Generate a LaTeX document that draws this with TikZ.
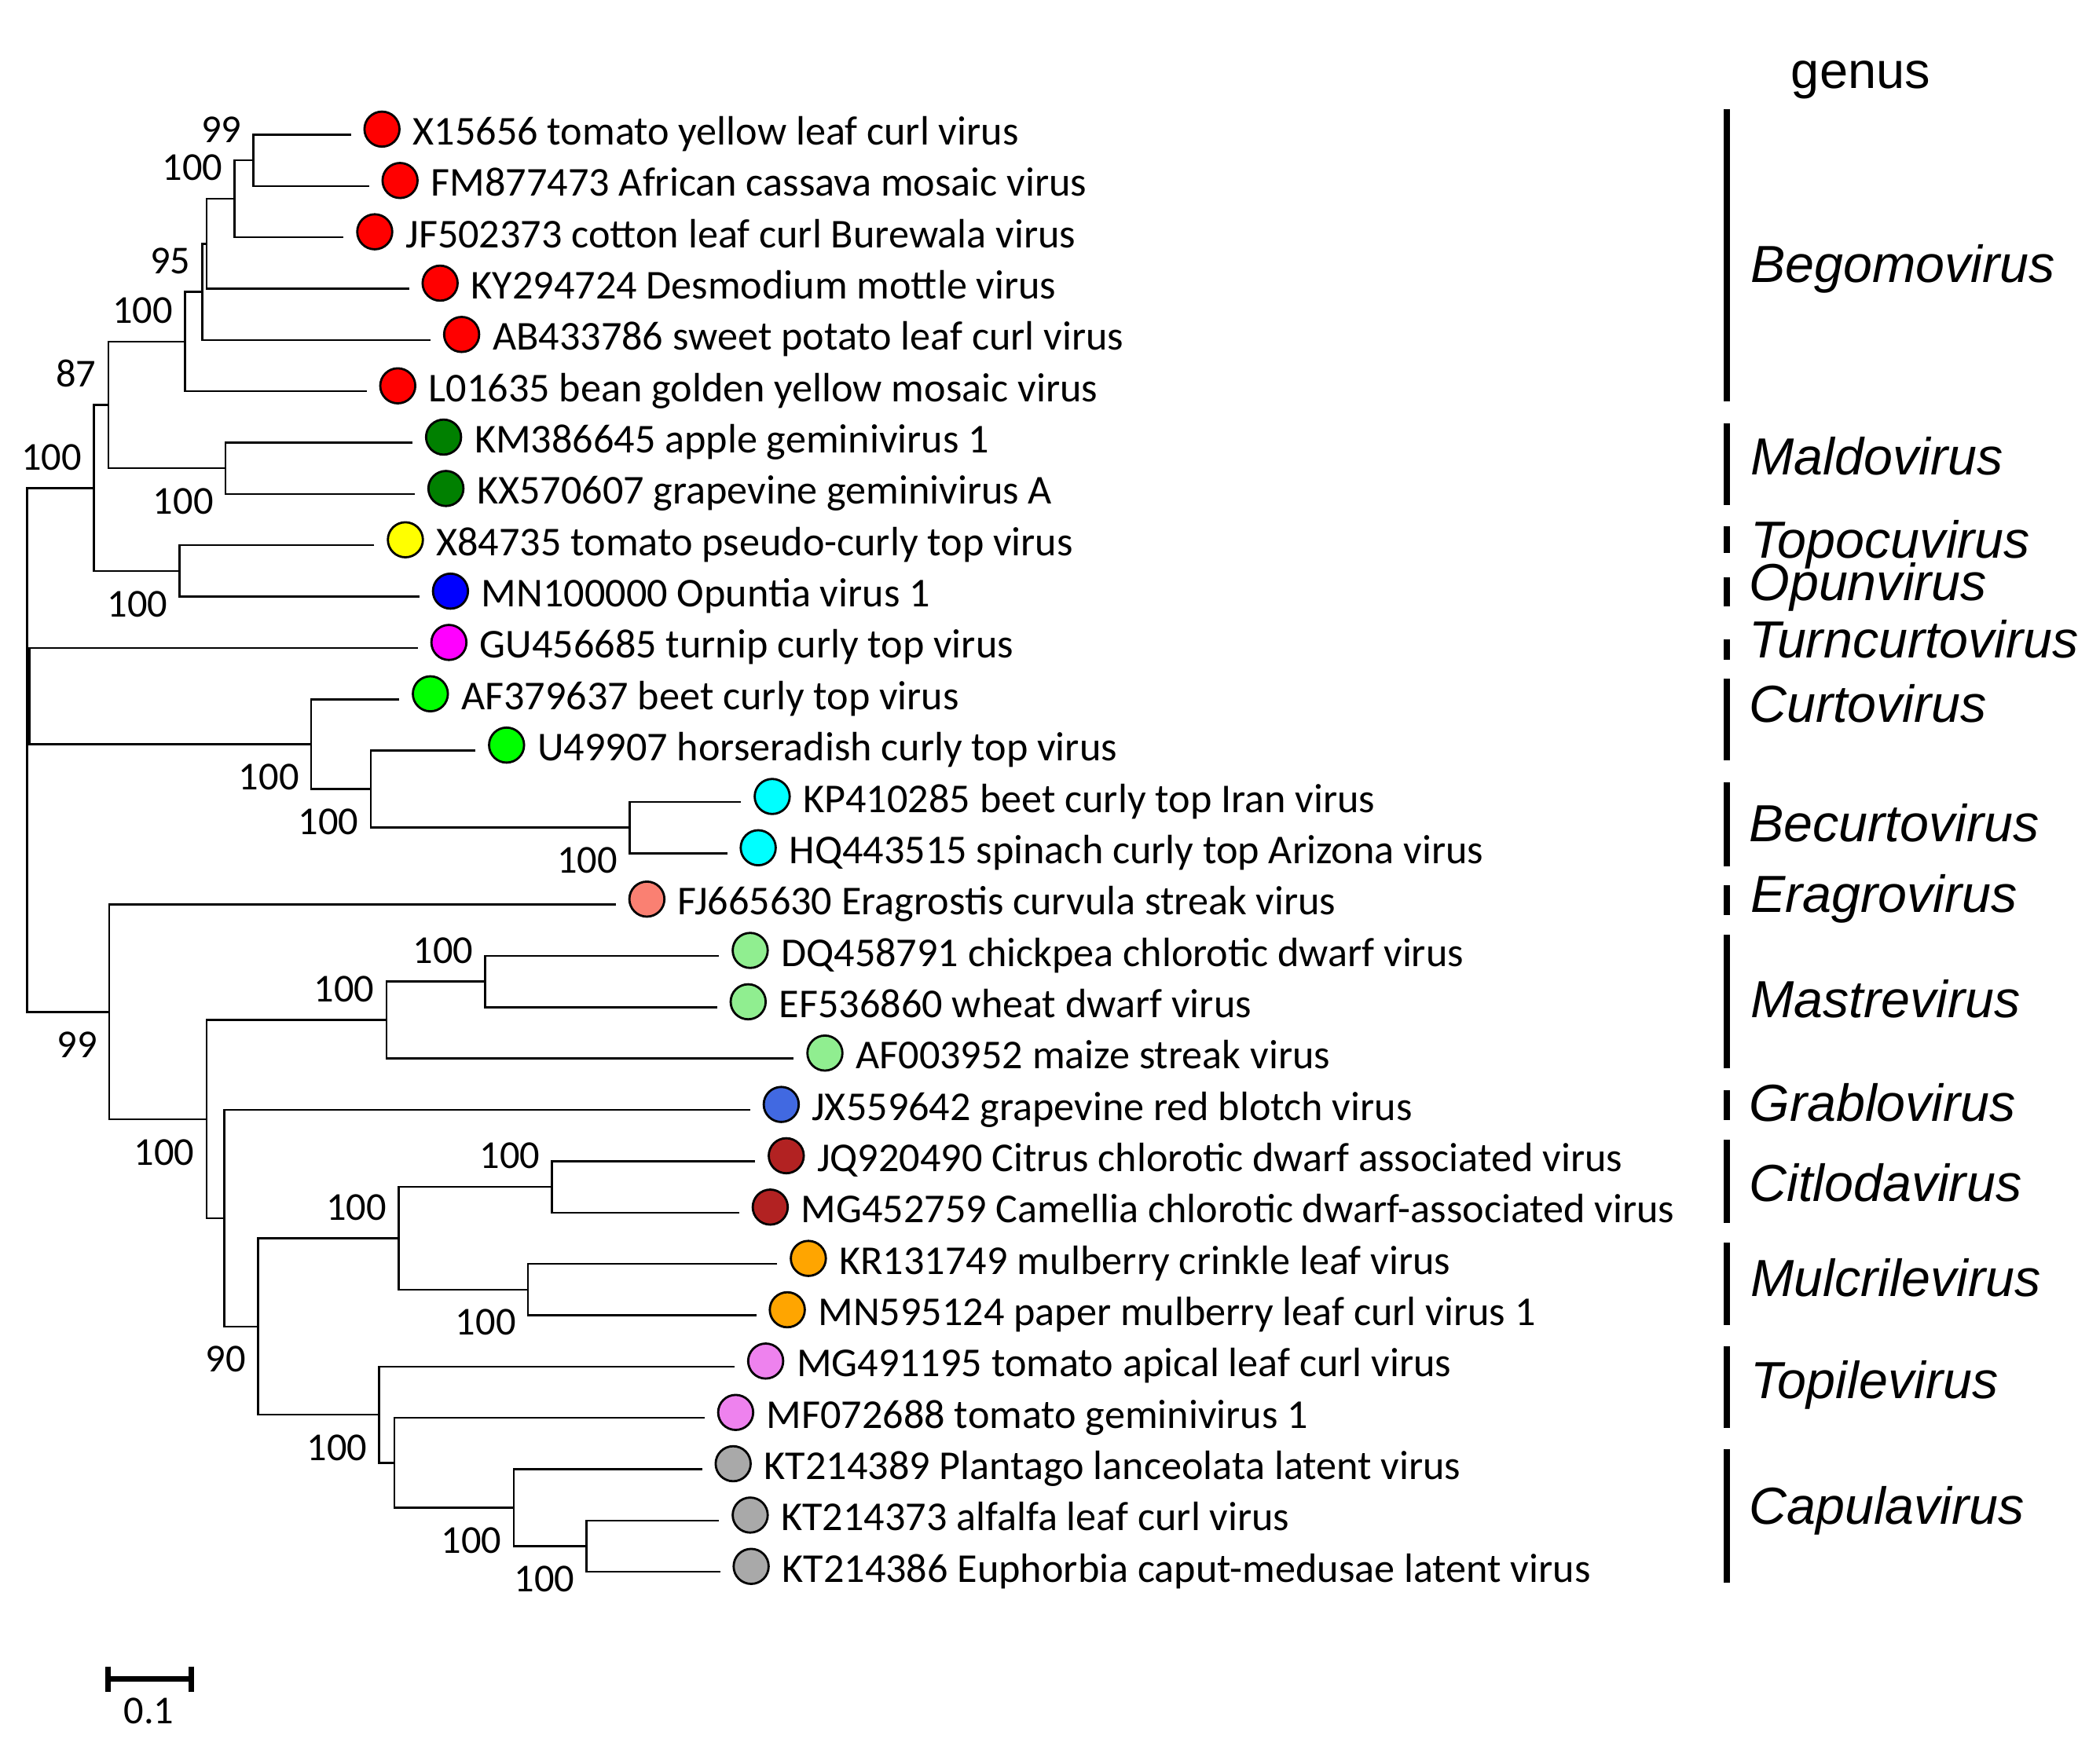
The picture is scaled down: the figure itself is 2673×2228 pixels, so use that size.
\documentclass[tikz,border=0pt]{standalone}
\usepackage{fontspec}
\setmainfont{Carlito}
\newfontfamily\genusfont{Liberation Sans}
\usetikzlibrary{positioning}

\definecolor{begored}{HTML}{FF0000}
\definecolor{maldogreen}{HTML}{008000}
\definecolor{topoyellow}{HTML}{FFFF00}
\definecolor{opunblue}{HTML}{0000FF}
\definecolor{turnmagenta}{HTML}{FF00FF}
\definecolor{curtolime}{HTML}{00FF00}
\definecolor{becurtocyan}{HTML}{00FFFF}
\definecolor{eragrosalmon}{HTML}{FA8072}
\definecolor{mastregreen}{HTML}{90EE90}
\definecolor{grabloblue}{HTML}{4169E1}
\definecolor{citlored}{HTML}{B22222}
\definecolor{mulcriorange}{HTML}{FFA500}
\definecolor{topileviolet}{HTML}{EE82EE}
\definecolor{capulagray}{HTML}{A9A9A9}

\begin{document}
\begin{tikzpicture}[x=0.5pt, y=-0.5pt,
        branch/.style={line width=1.25pt},
        tipdot/.style={circle, draw, line width=1.4pt, minimum size=22.3pt, inner sep=0pt},
        tiplab/.style={anchor=base west, inner sep=0pt, font=\fontsize{26.1pt}{30pt}\selectfont},
        boot/.style={inner sep=0pt, font=\fontsize{25.2pt}{30pt}\selectfont},
        genusbar/.style={line width=4.2pt},
        genuslab/.style={anchor=base west, inner sep=0pt, font=\genusfont\itshape\fontsize{33.2pt}{38pt}\selectfont},
        scalebar/.style={line width=3.5pt}]
        \useasboundingbox (0,0) rectangle (2673,2228);

        % tip ends
        \coordinate (t1) at (446.6,171.4);
        \coordinate (t2) at (469.6,236.8);
        \coordinate (t3) at (437.4,302.1);
        \coordinate (t4) at (520.6,367.5);
        \coordinate (t5) at (548,432.8);
        \coordinate (t6) at (466.7,498.2);
        \coordinate (t7) at (525,563.5);
        \coordinate (t8) at (528,628.9);
        \coordinate (t9) at (476.4,694.2);
        \coordinate (t10) at (533.8,759.6);
        \coordinate (t11) at (531.8,824.9);
        \coordinate (t12) at (508.2,890.3);
        \coordinate (t13) at (605.2,955.6);
        \coordinate (t14) at (943.3,1021);
        \coordinate (t15) at (925.5,1086.3);
        \coordinate (t16) at (783.8,1151.7);
        \coordinate (t17) at (915.3,1217);
        \coordinate (t18) at (912.7,1282.4);
        \coordinate (t19) at (1010.4,1347.7);
        \coordinate (t20) at (954.8,1413.1);
        \coordinate (t21) at (961.2,1478.4);
        \coordinate (t22) at (940.8,1543.8);
        \coordinate (t23) at (989.3,1609.1);
        \coordinate (t24) at (962.5,1674.5);
        \coordinate (t25) at (935,1739.8);
        \coordinate (t26) at (896.8,1805.2);
        \coordinate (t27) at (893.6,1870.5);
        \coordinate (t28) at (915.3,1935.9);
        \coordinate (t29) at (916.5,2001.2);

        % inner nodes
        \coordinate (nG) at (322.6,204.1);
        \coordinate (nF) at (298.5,253.1);
        \coordinate (nE) at (262.9,310.3);
        \coordinate (nD) at (257.7,371.6);
        \coordinate (nC) at (235.3,434.9);
        \coordinate (nM) at (287,596.2);
        \coordinate (nB) at (137.8,515.6);
        \coordinate (nT) at (228.5,726.9);
        \coordinate (nA) at (119.4,621.3);
        \coordinate (nBe) at (801.3,1053.7);
        \coordinate (nCu2) at (471.8,1004.7);
        \coordinate (nCu) at (396,947.5);
        \coordinate (nH) at (37.3,886.2);
        \coordinate (nMa2) at (617.6,1249.7);
        \coordinate (nMa) at (491.9,1298.7);
        \coordinate (nCit) at (702.6,1511.1);
        \coordinate (nMu) at (672,1641.8);
        \coordinate (nCi) at (507.4,1576.5);
        \coordinate (nCa2) at (746.7,1968.6);
        \coordinate (nCa) at (653.8,1919.6);
        \coordinate (nTo2) at (502.2,1862.4);
        \coordinate (nTo) at (482.7,1801.1);
        \coordinate (n90) at (328.3,1688.8);
        \coordinate (nN3) at (285.3,1551);
        \coordinate (nN2) at (262.9,1424.9);
        \coordinate (n99) at (139,1288.3);
        \coordinate (root) at (34.4,886.2);

        % branches
        \draw[branch] (nA) -| (root) |- (n99);
        \draw[branch] (root) |- (nH);
        \draw[branch] (nB) -| (nA) |- (nT);
        \draw[branch] (nC) -| (nB) |- (nM);
        \draw[branch] (nD) -| (nC) |- (t6);
        \draw[branch] (nE) -| (nD) |- (t5);
        \draw[branch] (nF) -| (nE) |- (t4);
        \draw[branch] (nG) -| (nF) |- (t3);
        \draw[branch] (t1) -| (nG) |- (t2);
        \draw[branch] (t7) -| (nM) |- (t8);
        \draw[branch] (t9) -| (nT) |- (t10);
        \draw[branch] (t11) -| (nH) |- (nCu);
        \draw[branch] (t12) -| (nCu) |- (nCu2);
        \draw[branch] (t13) -| (nCu2) |- (nBe);
        \draw[branch] (t14) -| (nBe) |- (t15);
        \draw[branch] (t16) -| (n99) |- (nN2);
        \draw[branch] (nMa) -| (nN2) |- (nN3);
        \draw[branch] (nMa2) -| (nMa) |- (t19);
        \draw[branch] (t17) -| (nMa2) |- (t18);
        \draw[branch] (t20) -| (nN3) |- (n90);
        \draw[branch] (nCi) -| (n90) |- (nTo);
        \draw[branch] (nCit) -| (nCi) |- (nMu);
        \draw[branch] (t21) -| (nCit) |- (t22);
        \draw[branch] (t23) -| (nMu) |- (t24);
        \draw[branch] (t25) -| (nTo) |- (nTo2);
        \draw[branch] (t26) -| (nTo2) |- (nCa);
        \draw[branch] (t27) -| (nCa) |- (nCa2);
        \draw[branch] (t28) -| (nCa2) |- (t29);

        % bootstrap values
        \node[boot, above left=11.25pt and 7.5pt of nG] (bG) {99};
        \node[boot, above left=11.25pt and 7.5pt of nF] (bF) {100};
        \node[boot, above left=11.25pt and 7.5pt of nD] (bD) {95};
        \node[boot, above left=11.25pt and 7.5pt of nC] (bC) {100};
        \node[boot, above left=11.25pt and 7.5pt of nB] (bB) {87};
        \node[boot, above left=11.25pt and 7.5pt of nA] (bA) {100};
        \node[boot, below left=12.5pt and 7.5pt of nM] (bM) {100};
        \node[boot, below left=12.5pt and 7.5pt of nT] (bT) {100};
        \node[boot, below left=12.5pt and 7.5pt of nCu] (bCu) {100};
        \node[boot, below left=12.5pt and 7.5pt of nCu2] (bCu2) {100};
        \node[boot, below left=12.5pt and 7.5pt of nBe] (bBe) {100};
        \node[boot, below left=12.5pt and 7.5pt of n99] (b99) {99};
        \node[boot, below left=12.5pt and 7.5pt of nN2] (bN2) {100};
        \node[boot, above left=11.25pt and 7.5pt of nMa] (bMa) {100};
        \node[boot, above left=11.25pt and 7.5pt of nMa2] (bMa2) {100};
        \node[boot, above left=11.25pt and 7.5pt of nCi] (bCi) {100};
        \node[boot, above left=11.25pt and 7.5pt of nCit] (bCit) {100};
        \node[boot, below left=12.5pt and 7.5pt of nMu] (bMu) {100};
        \node[boot, below left=12.5pt and 7.5pt of n90] (b90) {90};
        \node[boot, below left=12.5pt and 7.5pt of nTo] (bTo) {100};
        \node[boot, below left=12.5pt and 7.5pt of nCa] (bCa) {100};
        \node[boot, below left=12.5pt and 7.5pt of nCa2] (bCa2) {100};

        % taxa
        \node[tipdot, fill=begored] (c1) at (486.2,164.4) {};
        \node[tiplab] (l1) at (525.2,184.4) {X15656 tomato yellow leaf curl virus};
        \node[tipdot, fill=begored] (c2) at (509.2,229.8) {};
        \node[tiplab] (l2) at (548.2,249.8) {FM877473 African cassava mosaic virus};
        \node[tipdot, fill=begored] (c3) at (477,295.1) {};
        \node[tiplab] (l3) at (516,315.1) {JF502373 cotton leaf curl Burewala virus};
        \node[tipdot, fill=begored] (c4) at (560.2,360.5) {};
        \node[tiplab] (l4) at (599.2,380.5) {KY294724 Desmodium mottle virus};
        \node[tipdot, fill=begored] (c5) at (587.6,425.8) {};
        \node[tiplab] (l5) at (626.6,445.8) {AB433786 sweet potato leaf curl virus};
        \node[tipdot, fill=begored] (c6) at (506.3,491.2) {};
        \node[tiplab] (l6) at (545.3,511.2) {L01635 bean golden yellow mosaic virus};
        \node[tipdot, fill=maldogreen] (c7) at (564.6,556.5) {};
        \node[tiplab] (l7) at (603.6,576.5) {KM386645 apple geminivirus 1};
        \node[tipdot, fill=maldogreen] (c8) at (567.6,621.9) {};
        \node[tiplab] (l8) at (606.6,641.9) {KX570607 grapevine geminivirus A};
        \node[tipdot, fill=topoyellow] (c9) at (516,687.2) {};
        \node[tiplab] (l9) at (555,707.2) {X84735 tomato pseudo-curly top virus};
        \node[tipdot, fill=opunblue] (c10) at (573.4,752.6) {};
        \node[tiplab] (l10) at (612.4,772.6) {MN100000 Opuntia virus 1};
        \node[tipdot, fill=turnmagenta] (c11) at (571.4,817.9) {};
        \node[tiplab] (l11) at (610.4,837.9) {GU456685 turnip curly top virus};
        \node[tipdot, fill=curtolime] (c12) at (547.8,883.3) {};
        \node[tiplab] (l12) at (586.8,903.3) {AF379637 beet curly top virus};
        \node[tipdot, fill=curtolime] (c13) at (644.8,948.6) {};
        \node[tiplab] (l13) at (683.8,968.6) {U49907 horseradish curly top virus};
        \node[tipdot, fill=becurtocyan] (c14) at (982.9,1014) {};
        \node[tiplab] (l14) at (1021.9,1034) {KP410285 beet curly top Iran virus};
        \node[tipdot, fill=becurtocyan] (c15) at (965.1,1079.3) {};
        \node[tiplab] (l15) at (1004.1,1099.3) {HQ443515 spinach curly top Arizona virus};
        \node[tipdot, fill=eragrosalmon] (c16) at (823.4,1144.7) {};
        \node[tiplab] (l16) at (862.4,1164.7) {FJ665630 Eragrostis curvula streak virus};
        \node[tipdot, fill=mastregreen] (c17) at (954.9,1210) {};
        \node[tiplab] (l17) at (993.9,1230) {DQ458791 chickpea chlorotic dwarf virus};
        \node[tipdot, fill=mastregreen] (c18) at (952.3,1275.4) {};
        \node[tiplab] (l18) at (991.3,1295.4) {EF536860 wheat dwarf virus};
        \node[tipdot, fill=mastregreen] (c19) at (1050,1340.7) {};
        \node[tiplab] (l19) at (1089,1360.7) {AF003952 maize streak virus};
        \node[tipdot, fill=grabloblue] (c20) at (994.4,1406.1) {};
        \node[tiplab] (l20) at (1033.4,1426.1) {JX559642 grapevine red blotch virus};
        \node[tipdot, fill=citlored] (c21) at (1000.8,1471.4) {};
        \node[tiplab] (l21) at (1039.8,1491.4) {JQ920490 Citrus chlorotic dwarf associated virus};
        \node[tipdot, fill=citlored] (c22) at (980.4,1536.8) {};
        \node[tiplab] (l22) at (1019.4,1556.8) {MG452759 Camellia chlorotic dwarf-associated virus};
        \node[tipdot, fill=mulcriorange] (c23) at (1028.9,1602.1) {};
        \node[tiplab] (l23) at (1067.9,1622.1) {KR131749 mulberry crinkle leaf virus};
        \node[tipdot, fill=mulcriorange] (c24) at (1002.1,1667.5) {};
        \node[tiplab] (l24) at (1041.1,1687.5) {MN595124 paper mulberry leaf curl virus 1};
        \node[tipdot, fill=topileviolet] (c25) at (974.6,1732.8) {};
        \node[tiplab] (l25) at (1013.6,1752.8) {MG491195 tomato apical leaf curl virus};
        \node[tipdot, fill=topileviolet] (c26) at (936.4,1798.2) {};
        \node[tiplab] (l26) at (975.4,1818.2) {MF072688 tomato geminivirus 1};
        \node[tipdot, fill=capulagray] (c27) at (933.2,1863.5) {};
        \node[tiplab] (l27) at (972.2,1883.5) {KT214389 Plantago lanceolata latent virus};
        \node[tipdot, fill=capulagray] (c28) at (954.9,1928.9) {};
        \node[tiplab] (l28) at (993.9,1948.9) {KT214373 alfalfa leaf curl virus};
        \node[tipdot, fill=capulagray] (c29) at (956.1,1994.2) {};
        \node[tiplab] (l29) at (995.1,2014.2) {KT214386 Euphorbia caput-medusae latent virus};

        % genus column
        \node[anchor=base, inner sep=0pt, font=\genusfont\fontsize{32.5pt}{38pt}\selectfont] (genus) at (2368.5,112) {genus};
        \draw[genusbar] (2198,139) -- (2198,510.7);
        \draw[genusbar] (2198,538.8) -- (2198,642.6);
        \draw[genusbar] (2198,670) -- (2198,703.6);
        \draw[genusbar] (2198,735) -- (2198,771.7);
        \draw[genusbar] (2198,813.7) -- (2198,839.7);
        \draw[genusbar] (2198,864.3) -- (2198,968);
        \draw[genusbar] (2198,996) -- (2198,1103);
        \draw[genusbar] (2198,1127.3) -- (2198,1164.7);
        \draw[genusbar] (2198,1190) -- (2198,1360.4);
        \draw[genusbar] (2198,1387.8) -- (2198,1425.9);
        \draw[genusbar] (2198,1451) -- (2198,1556.8);
        \draw[genusbar] (2198,1582) -- (2198,1687);
        \draw[genusbar] (2198,1713.6) -- (2198,1818);
        \draw[genusbar] (2198,1844.6) -- (2198,2015);
        \node[genuslab] (gBego) at (2228,359) {Begomovirus};
        \node[genuslab] (gMaldo) at (2228,604.7) {Maldovirus};
        \node[genuslab] (gTopocu) at (2228,710) {Topocuvirus};
        \node[genuslab] (gOpun) at (2226,764.6) {Opunvirus};
        \node[genuslab] (gTurn) at (2226,837) {Turncurtovirus};
        \node[genuslab] (gCurto) at (2226,919) {Curtovirus};
        \node[genuslab] (gBecurto) at (2226,1071) {Becurtovirus};
        \node[genuslab] (gEragro) at (2228,1161) {Eragrovirus};
        \node[genuslab] (gMastre) at (2228,1295.7) {Mastrevirus};
        \node[genuslab] (gGrablo) at (2226,1427.3) {Grablovirus};
        \node[genuslab] (gCitlo) at (2226,1529.5) {Citlodavirus};
        \node[genuslab] (gMulcri) at (2228,1650) {Mulcrilevirus};
        \node[genuslab] (gTopile) at (2228,1780) {Topilevirus};
        \node[genuslab] (gCapula) at (2226,1940) {Capulavirus};

        % scale bar
        \coordinate (sbL) at (137.8,2137.7);
        \coordinate (sbR) at (243.4,2137.7);
        \draw[scalebar] (sbL) -- (sbR);
        \draw[scalebar] ([yshift=8pt]sbL) -- ([yshift=-8pt]sbL);
        \draw[scalebar] ([yshift=8pt]sbR) -- ([yshift=-8pt]sbR);
        \node[boot] (sblab) at (189.5,2178) {0.1};
\end{tikzpicture}
\end{document}
